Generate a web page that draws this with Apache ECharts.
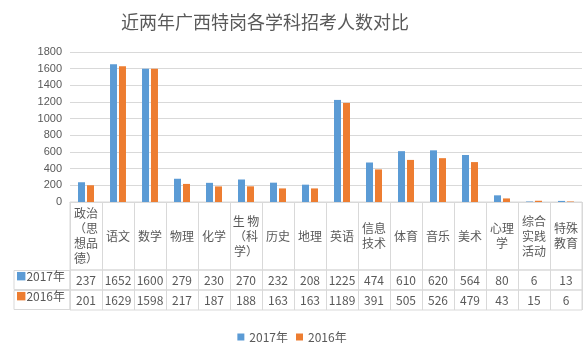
<!DOCTYPE html>
<html>
<head>
<meta charset="utf-8">
<script src="https://cdn.jsdelivr.net/npm/echarts@6/dist/echarts.min.js"></script>
<style>
  html, body { margin: 0; padding: 0; background: #fff; }
  #chart { width: 584px; height: 354px; }
</style>
</head>
<body>
<div id="chart"></div>
<script>
const categories = [
  "政治\n（思\n想品\n德）", "语文", "数学", "物理", "化学", "生 物\n（科\n学）",
  "历史", "地理", "英语", "信息\n技术", "体育", "音乐", "美术", "心理\n学",
  "综合\n实践\n活动", "特殊\n教育"
];
const values2017 = [237, 1652, 1600, 279, 230, 270, 232, 208, 1225, 474, 610, 620, 564, 80, 6, 13];
const values2016 = [201, 1629, 1598, 217, 187, 188, 163, 163, 1189, 391, 505, 526, 479, 43, 15, 6];
const yTicks = { min: 0, max: 1800, interval: 200 };

const blue = "#5B9BD5";
const orange = "#ED7D31";
const lineColor = "#d9d9d9";
const textColor = "#595959";
const font = "'Microsoft YaHei', 'Noto Sans CJK SC', sans-serif";

const gridX = { left: 70, right: 2 };

// one row of the data table under the plot
const rowAxis = (gridIndex, vals) => ({
  type: "category",
  gridIndex,
  data: categories,
  position: "bottom",
  axisLine: { show: false },
  axisTick: { show: false },
  splitLine: { show: true, interval: 0, lineStyle: { color: lineColor } },
  axisLabel: {
    show: !!vals,
    inside: true,
    interval: 0,
    margin: 10,
    verticalAlign: "middle",
    color: textColor,
    fontSize: 12,
    fontFamily: font,
    formatter: (v, i) => (vals ? String(vals[i]) : "")
  }
});

// left header cell of a table row, drawn as the y axis label
const headAxis = (gridIndex, name, color) => ({
  type: "category",
  gridIndex,
  data: [name],
  axisLine: { show: false },
  axisTick: { show: false },
  splitLine: { show: false },
  axisLabel: {
    show: !!name,
    margin: 56,
    align: "left",
    verticalAlign: "middle",
    width: 54,
    height: 19,
    padding: [0, 0, 0, 2],
    borderColor: lineColor,
    borderWidth: name ? 1 : 0,
    formatter: v => "{sq|■}{t|" + v + "}",
    rich: {
      sq: { color, fontSize: 11, fontFamily: "DejaVu Sans" },
      t: { color: textColor, fontSize: 12, fontFamily: font }
    }
  }
});

const chart = echarts.init(document.getElementById("chart"));
chart.setOption({
  animation: false,
  backgroundColor: "#fff",
  title: {
    text: "近两年广西特岗各学科招考人数对比",
    left: 116,
    top: 8,
    textStyle: { color: textColor, fontSize: 18, fontWeight: "normal", fontFamily: font }
  },
  legend: {
    bottom: 6,
    left: "center",
    itemWidth: 7,
    itemHeight: 7,
    itemGap: 8,
    icon: "rect",
    textStyle: { color: textColor, fontSize: 12, fontFamily: font },
    data: ["2017年", "2016年"]
  },
  grid: [
    { ...gridX, top: 52, height: 150 },
    { ...gridX, top: 202, height: 68, show: true, borderColor: lineColor },
    { ...gridX, top: 270, height: 20, show: true, borderColor: lineColor },
    { ...gridX, top: 290, height: 20, show: true, borderColor: lineColor }
  ],
  xAxis: [
    {
      type: "category",
      gridIndex: 0,
      data: categories,
      axisLine: { lineStyle: { color: lineColor } },
      axisTick: { show: false },
      axisLabel: {
        interval: 0,
        margin: 34,
        verticalAlign: "middle",
        lineHeight: 15,
        color: textColor,
        fontSize: 12,
        fontFamily: font
      }
    },
    rowAxis(1, null),
    rowAxis(2, values2017),
    rowAxis(3, values2016)
  ],
  yAxis: [
    {
      type: "value",
      gridIndex: 0,
      ...yTicks,
      axisLine: { show: false },
      axisTick: { show: false },
      splitLine: { lineStyle: { color: lineColor } },
      axisLabel: {
        color: textColor,
        fontSize: 11,
        margin: 8,
        fontFamily: "Liberation Sans, Arial, sans-serif",
        formatter: v => String(v)
      }
    },
    headAxis(1, "", blue),
    headAxis(2, "2017年", blue),
    headAxis(3, "2016年", orange)
  ],
  series: [
    {
      name: "2017年",
      type: "bar",
      xAxisIndex: 0,
      yAxisIndex: 0,
      data: values2017,
      barWidth: 7,
      barGap: "28%",
      itemStyle: { color: blue }
    },
    {
      name: "2016年",
      type: "bar",
      xAxisIndex: 0,
      yAxisIndex: 0,
      data: values2016,
      barWidth: 7,
      barGap: "28%",
      itemStyle: { color: orange }
    }
  ]
});
</script>
</body>
</html>
